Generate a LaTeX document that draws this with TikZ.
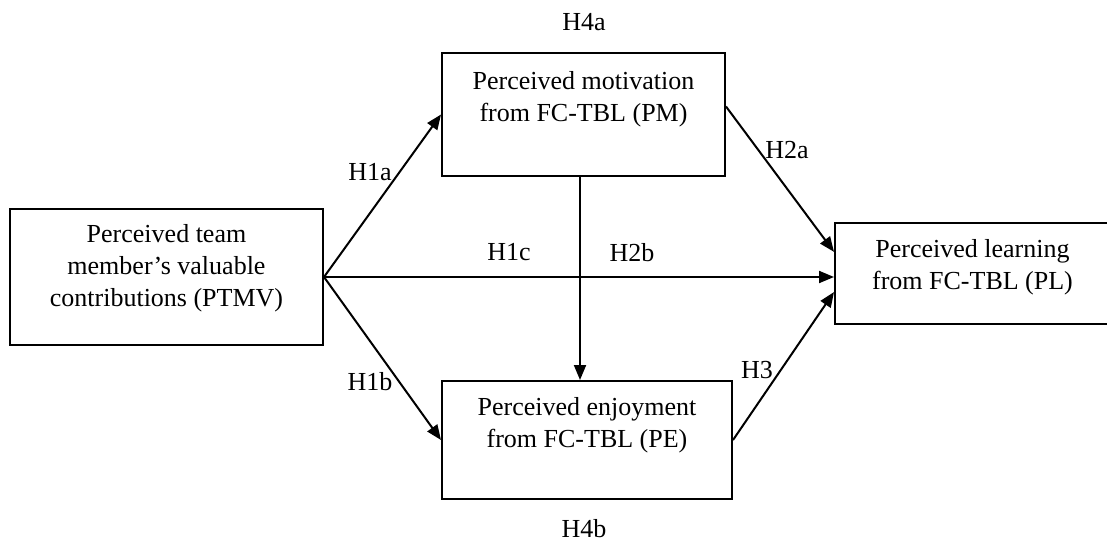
\documentclass[tikz,border=0pt]{standalone}
\usepackage{fontspec}
\setmainfont{Liberation Serif}
\usetikzlibrary{arrows.meta,calc}
\begin{document}
\begin{tikzpicture}[x=1pt,y=-1pt,
  box/.style={draw=black,line width=2pt,rectangle,inner sep=0pt},
  txt/.style={anchor=north,align=center,inner sep=0pt,font=\fontsize{26}{32}\selectfont},
  lab/.style={inner sep=0pt,font=\fontsize{26}{32}\selectfont},
  arr/.style={line width=2pt,-{Triangle[length=15pt,width=12pt]}}]
\useasboundingbox (0,0) rectangle (1107,543);
% boxes
\node[box,minimum width=313pt,minimum height=136pt] (PTMV) at (166.5,277) {};
\node[box,minimum width=283pt,minimum height=123pt] (PM) at (583.5,114.5) {};
\node[box,minimum width=290pt,minimum height=118pt] (PE) at (587,440) {};
\node[box,minimum width=275pt,minimum height=101pt] (PL) at (972.5,273.5) {};
% texts
\node[txt] (PTMVt) at ($(PTMV.north)+(0,16)$) {Perceived team\\member’s valuable\\contributions (PTMV)};
\node[txt] (PMt) at ($(PM.north)+(0,19)$) {Perceived motivation\\from FC-TBL (PM)};
\node[txt] (PEt) at ($(PE.north)+(0,17)$) {Perceived enjoyment\\from FC-TBL (PE)};
\node[txt] (PLt) at ($(PL.north)+(0,17)$) {Perceived learning\\from FC-TBL (PL)};
% helper coordinates
\coordinate (vx) at (580,0);
\coordinate (PLa) at ($(PL.north west)!0.29!(PL.south west)$);
\coordinate (PLc) at ($(PL.north west)!0.68!(PL.south west)$);
\coordinate (PMe) at ($(PM.east)+(0,-8)$);
% connectors
\draw[arr] (PTMV.east) -- (PM.west);
\draw[arr] (PTMV.east) -- (PE.west);
\draw[arr] (PTMV.east) -- (PTMV.east -| PL.west);
\draw[arr] (PM.south -| vx) -- (PE.north -| vx);
\draw[arr] (PMe) -- (PLa);
\draw[arr] (PE.east) -- (PLc);
% labels
\node[lab] (H4a) at (584,22) {H4a};
\node[lab] (H4b) at (584,529) {H4b};
\node[lab] (H1a) at (370,172) {H1a};
\node[lab] (H1b) at (370,382) {H1b};
\node[lab] (H1c) at (509,252) {H1c};
\node[lab] (H2b) at (632,253) {H2b};
\node[lab] (H2a) at (787,150) {H2a};
\node[lab] (H3) at (757,370) {H3};
\end{tikzpicture}
\end{document}
